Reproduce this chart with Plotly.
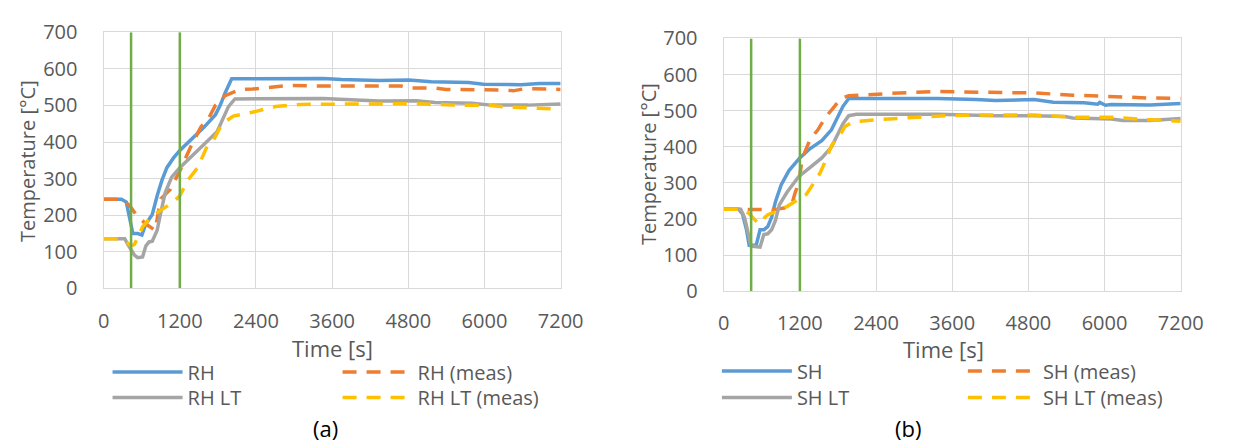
import plotly.graph_objects as go

# ---------------- data: panel (a) ----------------
RH_t = [0, 280, 357, 408, 460, 536, 603, 664, 766, 843, 919, 996, 1098, 1200, 1379, 1583, 1762, 1838, 1915, 2017,
        3456, 3750, 4338, 4808, 5161, 5749, 5984, 6572, 6865, 7200]
RH_v = [244, 244, 236, 193, 150, 150, 146, 176, 202, 253, 296, 330, 356, 377, 407, 441, 475, 501, 535, 573,
        574, 571, 568, 570, 565, 563, 558, 557, 560, 560]

RHm_t = [0, 281, 408, 510, 664, 811, 900, 1046, 1200, 1379, 1532, 1660, 1762, 1915, 2145, 2349, 2927, 3456,
         4338, 4690, 4808, 5220, 5396, 5984, 6337, 6454, 6631, 7200]
RHm_v = [244, 244, 227, 202, 176, 159, 245, 270, 321, 390, 441, 467, 501, 527, 544, 545, 555, 553,
         553, 553, 548, 548, 544, 544, 542, 540, 546, 544]

RHLT_t = [0, 332, 383, 485, 536, 613, 664, 715, 766, 843, 894, 970, 1072, 1200, 1379, 1583, 1787, 1864, 1966,
          2068, 3456, 4338, 4926, 5220, 5808, 6102, 6690, 7200]
RHLT_v = [136, 136, 120, 91, 84, 86, 116, 127, 129, 159, 202, 262, 304, 330, 360, 394, 428, 458, 497,
          518, 519, 512, 513, 508, 506, 501, 501, 504]

RHLTm_t = [0, 179, 306, 434, 485, 613, 715, 868, 1098, 1200, 1328, 1481, 1634, 1736, 1864, 2043, 2400, 2706,
           3115, 3830, 4338, 4926, 5514, 6102, 6337, 6690, 7200]
RHLTm_v = [136, 136, 133, 116, 120, 168, 189, 210, 236, 253, 296, 330, 390, 407, 450, 471, 484, 497,
           503, 503, 504, 505, 501, 500, 496, 493, 490]

# ---------------- data: panel (b) ----------------
SH_t = [0, 237, 298, 359, 401, 511, 572, 632, 693, 754, 815, 906, 1028, 1198, 1362, 1545, 1697, 1788, 1879,
        1970, 2153, 3369, 3977, 4281, 4889, 5193, 5680, 5893, 5923, 6014, 6105, 6714, 7200]
SH_v = [227, 227, 213, 170, 127, 127, 170, 170, 179, 204, 248, 295, 334, 369, 395, 417, 447, 482, 512,
        534, 534, 534, 531, 528, 531, 523, 522, 518, 523, 515, 517, 516, 520]

SHm_t = [0, 350, 600, 800, 1000, 1080, 1120, 1180, 1240, 1362, 1484, 1605, 1727, 1849, 1970, 2214, 2761,
         3369, 4281, 4889, 5497, 6105, 6714, 7200]
SHm_v = [227, 227, 225, 226, 232, 245, 270, 300, 369, 421, 447, 482, 508, 534, 541, 544, 549,
         553, 551, 549, 543, 538, 535, 534]

SHLT_t = [0, 267, 328, 389, 432, 572, 632, 693, 754, 815, 876, 997, 1180, 1362, 1545, 1697, 1788, 1879, 1970,
          2092, 3369, 4281, 4889, 5376, 5497, 6105, 6288, 6714, 7200]
SHLT_v = [227, 227, 204, 161, 125, 122, 157, 159, 170, 196, 239, 274, 317, 343, 369, 399, 430, 464, 486,
          490, 490, 486, 486, 484, 480, 477, 473, 473, 478]

SHLTm_t = [0, 300, 400, 480, 540, 600, 650, 700, 850, 1000, 1120, 1200, 1300, 1420, 1520, 1600, 1700, 1850,
           1910, 2030, 2400, 3065, 3500, 4000, 4900, 5500, 6100, 6700, 7200]
SHLTm_v = [227, 227, 215, 200, 188, 190, 205, 212, 222, 235, 248, 255, 268, 300, 328, 360, 404, 438,
           456, 469, 475, 482, 486, 488, 488, 482, 482, 475, 471]

# event markers (vertical green lines) and axis ticks
event_t = [432, 1200]
event_span = [0, 700]
x_ticks = [0, 1200, 2400, 3600, 4800, 6000, 7200]
y_ticks = [0, 100, 200, 300, 400, 500, 600, 700]

# ---------------- styling ----------------
W, H = 1234, 448
BLUE, ORANGE, GRAY, YELLOW, GREEN = "#5b9bd5", "#ed7d31", "#a5a5a5", "#ffc000", "#70ad47"
TXT = "#595959"
GRID = "#d9d9d9"
FONT = "Open Sans, Noto Sans, DejaVu Sans, sans-serif"
LW = 3.5
DASH = "14px,10px"

fig = go.Figure()

panels = [
    dict(xa="x", ya="y", lg=("legend", "legend2"),
         series=[("RH", RH_t, RH_v, BLUE, "solid"),
                 ("RH (meas)", RHm_t, RHm_v, ORANGE, DASH),
                 ("RH LT", RHLT_t, RHLT_v, GRAY, "solid"),
                 ("RH LT (meas)", RHLTm_t, RHLTm_v, YELLOW, DASH)]),
    dict(xa="x2", ya="y2", lg=("legend3", "legend4"),
         series=[("SH", SH_t, SH_v, BLUE, "solid"),
                 ("SH (meas)", SHm_t, SHm_v, ORANGE, DASH),
                 ("SH LT", SHLT_t, SHLT_v, GRAY, "solid"),
                 ("SH LT (meas)", SHLTm_t, SHLTm_v, YELLOW, DASH)]),
]

for p in panels:
    for i, (name, t, v, col, dash) in enumerate(p["series"]):
        fig.add_trace(go.Scatter(
            x=t, y=v, name=name, mode="lines",
            line=dict(color=col, width=LW, dash=dash),
            xaxis=p["xa"], yaxis=p["ya"],
            legend=p["lg"][0] if i < 2 else p["lg"][1],
            hoverinfo="skip"))
    for et in event_t:
        fig.add_trace(go.Scatter(
            x=[et, et], y=event_span, mode="lines",
            line=dict(color=GREEN, width=2.5),
            xaxis=p["xa"], yaxis=p["ya"], showlegend=False, hoverinfo="skip"))

def px_x(px):
    return px / W

def px_y(py):
    return 1 - py / H

axis_common = dict(showgrid=True, gridcolor=GRID, gridwidth=1.3, zeroline=False,
                   showline=True, linecolor=GRID, linewidth=1.3, mirror=True,
                   ticks="", tickfont=dict(family=FONT, size=20, color=TXT), fixedrange=True)

fig.update_layout(
    width=W, height=H,
    margin=dict(l=0, r=0, t=0, b=0),
    paper_bgcolor="white", plot_bgcolor="white",
    font=dict(family=FONT, color=TXT),
    xaxis=dict(domain=[px_x(100), px_x(568)], range=[0, 7200], tickvals=x_ticks,
               anchor="y", ticklabelstandoff=14, **axis_common),
    yaxis=dict(domain=[px_y(292), px_y(19.5)], range=[0, 700], tickvals=y_ticks,
               anchor="x", ticklabelstandoff=21, **axis_common),
    xaxis2=dict(domain=[px_x(735), px_x(1203)], range=[0, 7200], tickvals=x_ticks,
                anchor="y2", ticklabelstandoff=14, **axis_common),
    yaxis2=dict(domain=[px_y(295), px_y(26)], range=[0, 700], tickvals=y_ticks,
                anchor="x2", ticklabelstandoff=21, **axis_common),
    showlegend=True,
)

legend_common = dict(orientation="h", xanchor="left", yanchor="middle", bgcolor="rgba(0,0,0,0)",
                     font=dict(family=FONT, size=20, color=TXT), itemwidth=70,
                     entrywidthmode="pixels", tracegroupgap=0, itemclick=False, itemdoubleclick=False)
fig.update_layout(
    legend=dict(x=px_x(104), y=px_y(381), entrywidth=145, **legend_common),
    legend2=dict(x=px_x(104), y=px_y(408), entrywidth=145, **legend_common),
    legend3=dict(x=px_x(728), y=px_y(380), entrywidth=161, **legend_common),
    legend4=dict(x=px_x(728), y=px_y(408), entrywidth=161, **legend_common),
)

ann = []
ann.append(dict(text="Temperature [°C]", x=px_x(22), y=px_y(156), textangle=-90,
                font=dict(family=FONT, size=20, color=TXT)))
ann.append(dict(text="Temperature [°C]", x=px_x(658), y=px_y(160), textangle=-90,
                font=dict(family=FONT, size=20, color=TXT)))
ann.append(dict(text="Time [s]", x=px_x(334), y=px_y(355), font=dict(family=FONT, size=22, color=TXT)))
ann.append(dict(text="Time [s]", x=px_x(960), y=px_y(357), font=dict(family=FONT, size=22, color=TXT)))
ann.append(dict(text="(a)", x=px_x(327), y=px_y(441), font=dict(family=FONT, size=22, color="#000000")))
ann.append(dict(text="(b)", x=px_x(924), y=px_y(441), font=dict(family=FONT, size=22, color="#000000")))
for a in ann:
    a.update(xref="paper", yref="paper", xanchor="center", yanchor="middle", showarrow=False)
fig.update_layout(annotations=ann)

fig.write_html("out.html")
